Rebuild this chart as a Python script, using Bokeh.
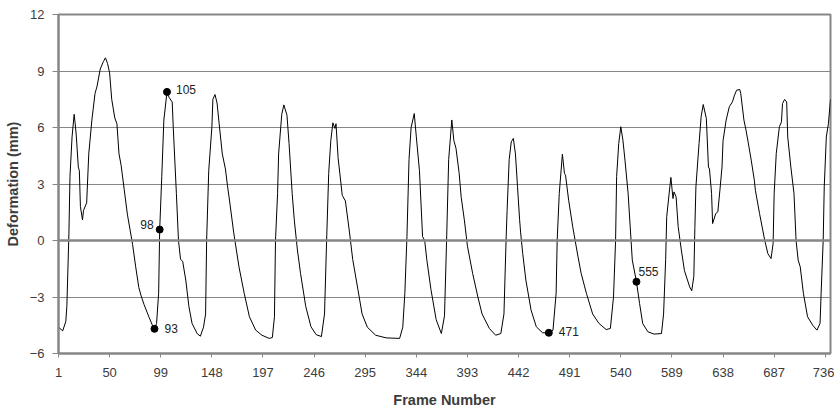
from bokeh.plotting import figure
from bokeh.models import Range1d, FixedTicker, Span, ColumnDataSource
from bokeh.embed import file_html
from bokeh.resources import INLINE
from bokeh.core.properties import value

# ---- data (frame number, deformation in mm) ----
frames = [
    1, 5, 8, 9, 11, 12, 14, 16, 17, 18, 20, 21, 22, 24, 25, 28, 30, 33, 36, 37,
    38, 41, 44, 46, 48, 50, 52, 55, 57, 59, 61, 64, 67, 72, 75, 78, 80, 83, 88, 91,
    93, 95, 97, 98, 100, 102, 105, 107, 110, 111, 114, 116, 118, 120, 123, 126, 129, 134, 137, 140,
    142, 143, 145, 148, 149, 151, 153, 155, 158, 161, 163, 165, 169, 174, 179, 184, 190, 196, 203, 206,
    208, 209, 211, 212, 215, 217, 220, 222, 225, 227, 230, 233, 238, 243, 248, 253, 256, 258, 260, 262,
    264, 266, 267, 269, 273, 276, 280, 283, 288, 292, 297, 305, 315, 328, 331, 333, 335, 337, 339, 342,
    344, 347, 350, 352, 354, 358, 363, 368, 371, 373, 375, 377, 378, 380, 382, 385, 387, 390, 393, 398,
    403, 407, 414, 420, 425, 428, 430, 431, 433, 435, 437, 439, 441, 443, 444, 446, 449, 454, 459, 465,
    471, 475, 478, 479, 481, 484, 486, 487, 490, 494, 499, 502, 507, 513, 519, 526, 530, 533, 535, 536,
    538, 540, 542, 544, 547, 549, 551, 555, 558, 561, 566, 572, 579, 581, 583, 584, 587, 588, 590, 591,
    593, 595, 598, 601, 606, 608, 610, 611, 612, 615, 617, 619, 622, 624, 625, 627, 628, 631, 633, 635,
    637, 638, 641, 644, 647, 649, 651, 654, 655, 658, 660, 662, 665, 668, 669, 673, 678, 681, 684, 686,
    687, 689, 692, 694, 695, 697, 699, 700, 703, 706, 708, 710, 712, 715, 719, 724, 728, 731, 732, 734,
    735, 737, 739, 741,
]
deformation = [
    -4.6, -4.8, -4.3, -3.5, 0.4, 3.4, 5.5, 6.7, 6.2, 5.6, 3.9, 3.7, 1.8, 1.1, 1.6, 2.0, 4.6, 6.4, 7.8, 8.0,
    8.2, 9.1, 9.5, 9.7, 9.4, 8.9, 7.5, 6.5, 6.2, 4.6, 4.0, 2.7, 1.4, -0.2, -1.4, -2.5, -2.9, -3.4, -4.1, -4.5,
    -4.69, -4.4, -2.8, 0.58, 3.4, 6.4, 7.89, 7.6, 7.35, 6.0, 2.5, 0.0, -1.0, -1.1, -2.1, -3.5, -4.4, -4.95, -5.08, -4.6,
    -3.9, 0.0, 3.7, 6.0, 7.5, 7.75, 7.3, 6.2, 4.6, 3.8, 2.9, 2.1, 0.4, -1.4, -2.8, -4.05, -4.76, -5.03, -5.2, -5.15,
    -4.05, 0.0, 2.5, 4.6, 6.7, 7.2, 6.65, 5.15, 2.5, 1.1, -0.5, -1.75, -3.5, -4.58, -5.0, -5.1, -3.9, 0.0, 3.56, 5.3,
    6.25, 5.95, 6.2, 4.4, 2.4, 2.1, 0.4, -1.0, -2.6, -3.9, -4.6, -5.03, -5.17, -5.2, -4.6, -2.8, 0.2, 4.3, 6.0, 6.74,
    5.5, 3.7, 0.2, 0.0, -1.0, -2.6, -4.2, -4.94, -4.0, 0.0, 4.3, 5.7, 6.4, 5.3, 4.9, 3.6, 2.3, 1.1, -0.3, -1.75,
    -3.0, -3.9, -4.67, -5.03, -4.94, -3.9, 0.0, 1.6, 4.3, 5.24, 5.42, 4.6, 2.85, 1.1, 0.4, -0.7, -2.1, -3.7, -4.58, -4.9,
    -4.9, -4.76, -2.8, 0.0, 2.5, 4.58, 3.56, 3.47, 2.14, 0.7, -0.87, -1.75, -2.8, -3.9, -4.4, -4.73, -4.67, -3.0, 0.0, 3.4,
    5.15, 6.04, 5.33, 4.27, 2.5, 0.73, -1.04, -2.19, -3.35, -4.41, -4.85, -4.97, -4.94, -3.9, -1.0, 1.26, 2.85, 3.35, 2.23, 2.58,
    2.32, 0.73, -0.5, -1.6, -2.46, -2.67, -1.9, 0.7, 2.85, 5.15, 6.57, 7.22, 6.48, 3.9, 3.8, 2.5, 0.9, 1.43, 1.52, 2.67,
    3.9, 5.3, 6.4, 7.1, 7.36, 7.72, 7.98, 8.02, 7.8, 6.4, 5.86, 5.24, 4.27, 3.2, 2.67, 1.43, 0.0, -0.7, -0.96, -0.16,
    2.5, 4.62, 6.04, 6.3, 7.27, 7.49, 7.36, 5.5, 3.9, 2.5, 0.0, -1.04, -1.4, -2.8, -4.05, -4.5, -4.76, -4.4, -2.8, 0.0,
    2.85, 5.5, 6.2, 7.5,
]
marked_frames = [93, 98, 105, 471, 555]
marked_values = [-4.69, 0.58, 7.89, -4.9, -2.19]
marked_labels = ["93", "98", "105", "471", "555"]

x_ticks = [1, 50, 99, 148, 197, 246, 295, 344, 393, 442, 491, 540, 589, 638, 687, 736]
y_ticks = [-6, -3, 0, 3, 6, 9, 12]

# ---- styling ----
GRAY = "#868686"
TEXT = "#3c3c3c"
FONT = "Liberation Sans"

p = figure(width=834, height=410, output_backend="svg", toolbar_location=None,
           x_range=Range1d(1, 741), y_range=Range1d(-6, 12),
           min_border_left=58, min_border_right=4, min_border_top=14, min_border_bottom=57)
p.background_fill_color = "white"
p.border_fill_color = "white"
p.outline_line_color = GRAY
p.outline_line_width = 2

p.xgrid.visible = False
p.ygrid.ticker = FixedTicker(ticks=y_ticks)
p.ygrid.grid_line_color = GRAY
p.ygrid.grid_line_width = 1

for ax in (p.xaxis[0], p.yaxis[0]):
    ax.axis_line_color = GRAY
    ax.axis_line_width = 2
    ax.major_tick_line_color = GRAY
    ax.major_tick_line_width = 1
    ax.major_tick_in = 0
    ax.minor_tick_line_color = None
    ax.major_label_text_font = FONT
    ax.major_label_text_font_size = "13px"
    ax.major_label_text_color = TEXT
    ax.axis_label_text_font = FONT
    ax.axis_label_text_font_size = "14.5px"
    ax.axis_label_text_font_style = "bold"
    ax.axis_label_text_color = TEXT

p.xaxis.ticker = FixedTicker(ticks=x_ticks)
p.xaxis.major_tick_out = 4
p.xaxis.major_label_standoff = 10
p.xaxis.axis_label = "Frame Number"
p.xaxis.axis_label_standoff = 12

p.yaxis.ticker = FixedTicker(ticks=y_ticks)
p.yaxis.major_tick_out = 6
p.yaxis.major_label_standoff = 8
p.yaxis.axis_label = "Deformation (mm)"
p.yaxis.axis_label_standoff = 6

# zero line
p.add_layout(Span(location=0, dimension="width", line_color=GRAY, line_width=2.5))

# waveform
p.line(frames, deformation, line_color="black", line_width=1)

# marked points
p.scatter(marked_frames, marked_values, size=7, fill_color="black", line_color="black")

label_style = {
    "93": (10, 0, "left"),
    "98": (-6, -5, "right"),
    "105": (9, -2, "left"),
    "471": (10, -1, "left"),
    "555": (2, -10, "left"),
}
for fx, fy, lab in zip(marked_frames, marked_values, marked_labels):
    dx, dy, align = label_style[lab]
    src = ColumnDataSource(dict(x=[fx], y=[fy], t=[lab]))
    p.text(x="x", y="y", text="t", source=src, x_offset=dx, y_offset=dy,
           text_align=align, text_baseline="middle",
           text_font=value(FONT), text_font_size="12px", text_color="#222222")

open("out.html", "w").write(file_html(p, INLINE))
